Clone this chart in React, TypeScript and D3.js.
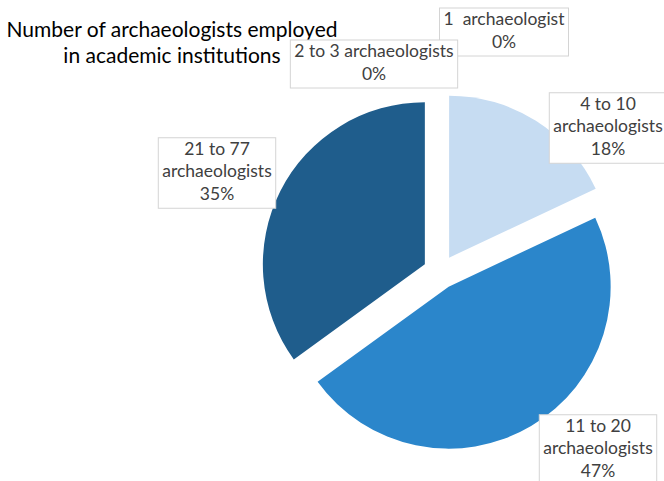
import React, { useRef, useEffect } from 'react';
import * as d3 from 'd3';

// chart data
const categories = ['1 archaeologist', '2 to 3 archaeologists', '4 to 10 archaeologists', '11 to 20 archaeologists', '21 to 77 archaeologists'];
const labelLines = [['1  archaeologist'], ['2 to 3 archaeologists'], ['4 to 10', 'archaeologists'], ['11 to 20', 'archaeologists'], ['21 to 77', 'archaeologists']];
const shares = [0, 0, 18, 47, 35];
const colors = ['#9ec5e8', '#5b9bd5', '#c6dcf2', '#2b86cb', '#1f5d8c'];
const titleLines = ['Number of archaeologists employed', 'in academic institutions'];

// label box centres, relative to the pie centre
const labelOffsets: [number, number][] = [[64, -240], [-66, -208], [168, -144], [158, 178], [-223, -99]];

const App: React.FC = () => {
  const ref = useRef<SVGSVGElement>(null);

  useEffect(() => {
    const width = 664;
    const height = 481;
    const cx = 440;
    const cy = 272;
    const radius = 162;
    const explode = 17;
    const font = 'Lato, "Open Sans", sans-serif';

    const svg = d3.select(ref.current);
    svg.selectAll('*').remove();
    svg.attr('width', width).attr('height', height);

    svg.append('rect').attr('width', width).attr('height', height).attr('fill', '#fff');

    const total = d3.sum(shares);
    const pie = d3.pie<number>().sort(null).value(d => d);
    const arcs = pie(shares);
    const arc = d3.arc<d3.PieArcDatum<number>>().innerRadius(0).outerRadius(radius);

    const g = svg.append('g').attr('transform', `translate(${cx},${cy})`);

    g.selectAll('path')
      .data(arcs.filter(a => a.value > 0))
      .join('path')
      .attr('transform', d => {
        const mid = (d.startAngle + d.endAngle) / 2;
        return `translate(${Math.sin(mid) * explode},${-Math.cos(mid) * explode})`;
      })
      .attr('fill', d => colors[d.index])
      .attr('d', arc);

    // title
    svg.append('g')
      .selectAll('text')
      .data(titleLines)
      .join('text')
      .attr('x', 172)
      .attr('y', (d, i) => 37 + i * 26)
      .attr('text-anchor', 'middle')
      .attr('font-family', font)
      .attr('font-size', 21)
      .attr('fill', '#000')
      .text(d => d);

    // data labels
    const lineH = 22.5;
    const labels = svg.append('g');
    categories.forEach((c, i) => {
      const lines = [...labelLines[i], `${Math.round((shares[i] / total) * 100)}%`];
      const [ox, oy] = labelOffsets[i];
      const lx = cx + ox;
      const ly = cy + oy;
      const boxH = lines.length * lineH + 3;
      const lg = labels.append('g');
      const rect = lg.append('rect');
      const texts = lg.selectAll('text')
        .data(lines)
        .join('text')
        .attr('x', lx)
        .attr('y', (d, j) => ly - boxH / 2 + 17 + j * lineH)
        .attr('text-anchor', 'middle')
        .attr('font-family', font)
        .attr('font-size', 17.5)
        .attr('fill', '#404040')
        .style('white-space', 'pre')
        .text(d => d);
      let w = 0;
      texts.each(function () {
        w = Math.max(w, (this as SVGTextElement).getComputedTextLength());
      });
      const boxW = w + 8;
      rect
        .attr('x', lx - boxW / 2)
        .attr('y', ly - boxH / 2)
        .attr('width', boxW)
        .attr('height', boxH)
        .attr('fill', '#fff')
        .attr('stroke', '#d4d4d4')
        .attr('stroke-width', 1);
    });
  }, []);

  return <svg ref={ref} style={{ position: 'absolute', left: 0, top: 0 }}></svg>;
};

export default App;
